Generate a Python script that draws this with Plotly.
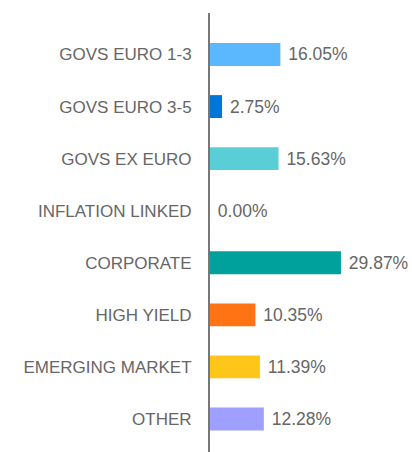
import plotly.graph_objects as go

categories = ["GOVS EURO 1-3", "GOVS EURO 3-5", "GOVS EX EURO", "INFLATION LINKED",
              "CORPORATE", "HIGH YIELD", "EMERGING MARKET", "OTHER"]
weights = [16.05, 2.75, 15.63, 0.00, 29.87, 10.35, 11.39, 12.28]
colors = ["#5BB8FF", "#0077D6", "#5ACED6", "#5ACED6",
          "#00A19C", "#FF7315", "#FFC61A", "#9F9FFF"]

fig = go.Figure()
fig.add_trace(go.Bar(
    y=categories,
    x=weights,
    orientation="h",
    marker=dict(color=colors, line=dict(width=0)),
    width=0.44,
    text=[f"\u00a0{v:.2f}%" for v in weights],
    textposition="outside",
    constraintext="none",
    textfont=dict(size=17.5, color="#666666"),
    cliponaxis=False,
    hoverinfo="skip",
))

fig.update_layout(
    width=412, height=452,
    margin=dict(l=210, r=0, t=13, b=0, autoexpand=False),
    paper_bgcolor="white", plot_bgcolor="white",
    font=dict(family="Liberation Sans, Arial, sans-serif", color="#666666"),
    showlegend=False,
)
fig.update_xaxes(range=[0, 46.07], showgrid=False, zeroline=False,
                 showticklabels=False, showline=False, automargin=False)
fig.update_yaxes(range=[7.634, -0.797], showgrid=False, zeroline=False,
                 showline=True, linecolor="#777777", linewidth=2,
                 ticks="", ticklabelstandoff=13, automargin=False,
                 tickfont=dict(size=17, color="#666666"))

# drop the default body margin so the figure fills the window exactly
fig.write_html("out.html",
               config={"displayModeBar": False},
               post_script="document.body.style.margin='0';document.body.style.overflow='hidden';")
